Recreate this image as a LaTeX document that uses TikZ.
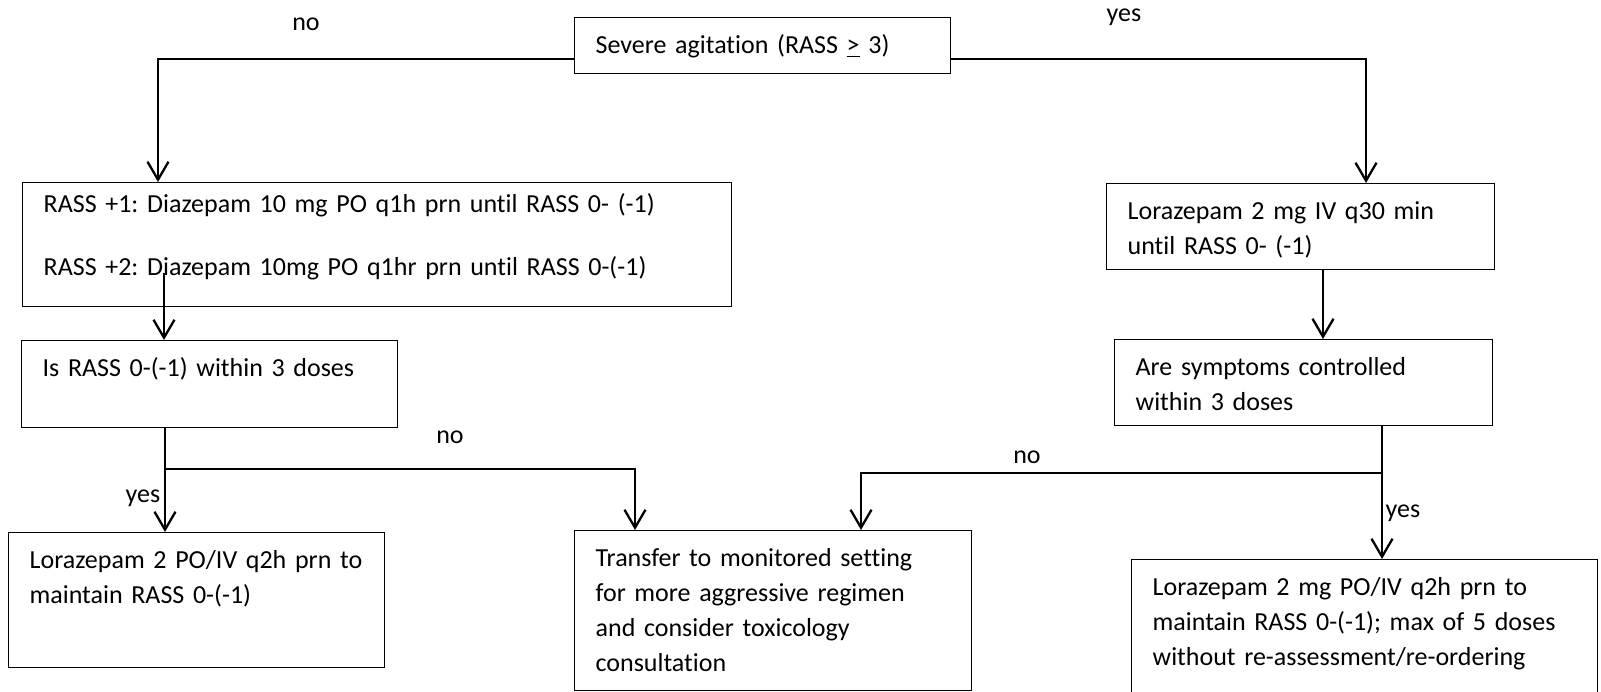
\documentclass[tikz,border=0pt]{standalone}
\usepackage{fontspec}
\setmainfont{Carlito}[Ligatures=NoCommon]
\frenchspacing
\usetikzlibrary{arrows.meta}

\tikzset{
  box/.style 2 args={draw, line width=0.65pt, anchor=north west, align=left,
    inner xsep=10.5pt, inner ysep=0pt, text height=18pt, text width=#1, text depth=#2},
  flow/.style={line width=1.15pt, -{Straight Barb[length=9pt,width=10.5pt]}},
  lbl/.style={inner sep=0pt},
}

\begin{document}
\begin{tikzpicture}[x=0.5pt,y=-0.5pt,font=\fontsize{13}{17.5}\selectfont]
  \useasboundingbox (0,0) rectangle (1601,691);
  % boxes, placed by top-left corner (px)
  \node[box={167pt}{10pt}] (sev) at (574,17) {Severe agitation (RASS \underline{>} 3)};
  \node[box={333.5pt}{47pt}, text height=15pt] (rassA) at (22,182)
    {RASS +1: Diazepam 10 mg PO q1h prn until RASS 0- (-1)\\[14pt]
     RASS +2: Diazepam 10mg PO q1hr prn until RASS 0-(-1)};
  \node[box={167pt}{25.5pt}] (rassB) at (21,340) {Is RASS 0-(-1) within 3 doses};
  \node[box={167pt}{49.5pt}] (lorPO) at (8,532) {Lorazepam 2 PO/IV q2h prn to\\ maintain RASS 0-(-1)};
  \node[box={177.5pt}{62pt}] (transfer) at (574,530)
    {Transfer to monitored setting\\ for more aggressive regimen\\ and consider toxicology\\ consultation};
  \node[box={173pt}{25pt}] (lorIV) at (1106,183) {Lorazepam 2 mg IV q30 min\\ until RASS 0- (-1)};
  \node[box={168pt}{25pt}] (ctrl) at (1114,339) {Are symptoms controlled\\ within 3 doses};
  \node[box={212pt}{52pt}] (lorMax) at (1131,559)
    {Lorazepam 2 mg PO/IV q2h prn to\\ maintain RASS 0-(-1); max of 5 doses\\ without re-assessment/re-ordering};

  % connectors
  \draw[flow] ([yshift=7.5pt]sev.south west) -| ([xshift=68pt]rassA.north west);
  \draw[flow] ([yshift=7.5pt]sev.south east) -| ([xshift=130pt]lorIV.north west);
  \coordinate (ab) at ([xshift=71pt,yshift=17pt]rassA.south west);
  \draw[flow] (ab) -- (ab |- rassB.north);
  \coordinate (bc) at ([xshift=72pt]rassB.south west);
  \draw[flow] (bc) -- (bc |- lorPO.north);
  \draw[flow] ([yshift=-20.5pt]bc) -| ([xshift=30.5pt]transfer.north west);
  \coordinate (ef) at ([xshift=108.5pt]lorIV.south west);
  \draw[flow] (ef) -- (ef |- ctrl.north);
  \coordinate (fg) at ([xshift=134pt]ctrl.south west);
  \draw[flow] (fg) -- (fg |- lorMax.north);
  \draw[flow] ([yshift=-23.5pt]fg) -| ([xshift=143.5pt]transfer.north west);

  % branch labels
  \node[lbl] (noTop) at (306,24) {no};
  \node[lbl] (yesTop) at (1124,17) {yes};
  \node[lbl] (noLeft) at (450,437) {no};
  \node[lbl] (yesLeft) at (143,498) {yes};
  \node[lbl] (noRight) at (1027,457) {no};
  \node[lbl] (yesRight) at (1403,513) {yes};
\end{tikzpicture}
\end{document}
